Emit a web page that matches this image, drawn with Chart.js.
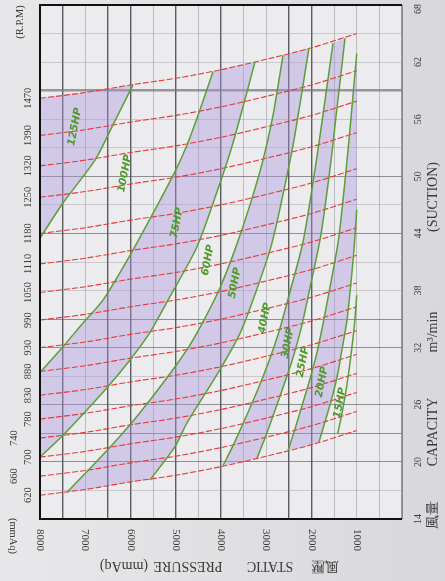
<!DOCTYPE html>
<html>
<head>
<meta charset="utf-8">
<script src="https://cdn.jsdelivr.net/npm/chart.js@4.4.1/dist/chart.umd.min.js"></script>
<style>
html, body { margin: 0; padding: 0; }
body { width: 445px; height: 581px; background: linear-gradient(to right, #e8e8ea, #d8d8dc); overflow: hidden; }
#wrap { position: relative; width: 445px; height: 581px; }
</style>
</head>
<body>
<div id="wrap"><canvas id="fan-chart"></canvas></div>
<script>
// static pressure (mmAq) / capacity (m3/min) axes
const pressureTicks = [8000, 7000, 6000, 5000, 4000, 3000, 2000, 1000];
const capacityTicks = [14, 20, 26, 32, 38, 44, 50, 56, 62, 68];

// constant speed curves, one row per R.P.M, sampled at rpmPressure
const rpmLabels = [1470, 1390, 1320, 1250, 1180, 1110, 1050, 990, 930, 880, 830, 780, 740, 700, 660, 620];
const rpmPressure = [8000, 7000, 6000, 5000, 4000, 3000, 2000, 1000];
const rpmCapacity = [
    [58.2, 58.8, 59.6, 60.3, 61.2, 62.3, 63.5, 65.0],
    [54.3, 54.9, 55.7, 56.4, 57.3, 58.4, 59.6, 61.1],
    [51.1, 51.7, 52.5, 53.2, 54.1, 55.2, 56.4, 57.9],
    [47.8, 48.4, 49.2, 49.9, 50.8, 51.9, 53.1, 54.6],
    [44.0, 44.6, 45.4, 46.1, 47.0, 48.1, 49.3, 50.8],
    [40.8, 41.4, 42.2, 42.9, 43.8, 44.9, 46.1, 47.6],
    [37.8, 38.4, 39.2, 39.9, 40.8, 41.9, 43.1, 44.6],
    [34.9, 35.5, 36.3, 37.0, 37.9, 39.0, 40.2, 41.7],
    [32.0, 32.6, 33.4, 34.1, 35.0, 36.1, 37.3, 38.8],
    [29.5, 30.1, 30.9, 31.6, 32.5, 33.6, 34.8, 36.3],
    [27.0, 27.6, 28.4, 29.1, 30.0, 31.1, 32.3, 33.8],
    [24.5, 25.1, 25.9, 26.6, 27.5, 28.6, 29.8, 31.3],
    [22.5, 23.1, 23.9, 24.6, 25.5, 26.6, 27.8, 29.3],
    [20.5, 21.1, 21.9, 22.6, 23.5, 24.6, 25.8, 27.3],
    [18.5, 19.1, 19.9, 20.6, 21.5, 22.6, 23.8, 25.3],
    [16.5, 17.1, 17.9, 18.6, 19.5, 20.6, 21.8, 23.3]
];

// motor power curves, [pressure, capacity] from low end to high end
const hpLabels = ["125HP", "100HP", "75HP", "60HP", "50HP", "40HP", "30HP", "25HP", "20HP", "15HP"];
const hp125 = [[8000, 43.5], [7492, 47.2], [6785, 51.7], [6387, 55.4], [5945, 59.6]];
const hp100 = [[8000, 29.4], [7492, 32.1], [7050, 34.6], [6608, 37.0], [6011, 41.7], [5459, 46.5], [5017, 50.5], [4751, 53.3], [4464, 57.0], [4177, 61.0]];
const hp75 = [[8000, 20.5], [7492, 22.8], [6519, 27.8], [6011, 30.7], [5569, 33.6], [5171, 37.0], [4530, 42.6], [4022, 49.3], [3735, 53.5], [3249, 62.0]];
const hp60 = [[7403, 16.8], [6519, 21.2], [6011, 23.9], [5569, 26.5], [5061, 29.7], [4685, 32.3], [4354, 35.1], [4022, 38.3], [3691, 42.3], [3359, 47.0], [3072, 51.7], [2851, 56.4], [2630, 62.7]];
const hp50 = [[5569, 18.1], [5017, 21.6], [4751, 24.1], [4022, 29.7], [3580, 33.5], [3293, 37.0], [2884, 42.8], [2550, 49.9], [2365, 54.4], [2055, 63.5]];
const hp40 = [[3956, 19.6], [3695, 22.1], [3204, 27.4], [2939, 30.6], [2718, 33.7], [2508, 37.3], [2188, 43.1], [1923, 50.7], [1772, 55.6], [1525, 64.0]];
const hp30 = [[3204, 20.4], [2996, 22.9], [2607, 28.1], [2386, 31.3], [2210, 34.4], [2046, 38.0], [1790, 43.9], [1575, 51.4], [1458, 56.3], [1260, 64.5]];
const hp25 = [[2519, 21.2], [2356, 23.6], [2046, 28.5], [1878, 31.5], [1746, 34.5], [1613, 37.8], [1405, 43.3], [1241, 50.4], [1149, 55.0], [1000, 62.9]];
const hp20 = [[1834, 22.1], [1746, 23.5], [1573, 26.3], [1480, 28.0], [1405, 29.6], [1334, 31.6], [1221, 34.7], [1130, 38.7], [1060, 42.4], [1000, 46.5]];
const hp15 = [[1420, 23.0], [1330, 25.0], [1220, 28.0], [1120, 31.5], [1050, 34.5], [1000, 37.5]];
const hpCurves = [hp125, hp100, hp75, hp60, hp50, hp40, hp30, hp25, hp20, hp15];
const hpLabelAt = [[7227, 55.2], [6122, 50.3], [4972, 45.1], [4287, 41.2], [3691, 38.8], [3028, 35.1], [2519, 32.5], [2188, 30.5], [1768, 28.4], [1370, 26.2]];

// shaded operating bands: [left curve, right curve], -1 = left edge of chart
const shadedBands = [[-1, 0], [1, 2], [3, 4], [5, 6], [7, 8]];

const darkPressureGrid = [7500, 6500, 6000, 5000, 4000, 2500, 2000];
const darkCapacityGrid = [20, 23, 26, 32, 35, 44, 50];

function bandShape(left, right) {
    const top = rpmCapacity[0];
    const bottom = rpmCapacity[rpmCapacity.length - 1];
    const a = left || [[8000, top[0]]];
    const aTop = a[a.length - 1], bTop = right[right.length - 1];
    const aBot = a[0], bBot = right[0];
    const pts = a.map(p => ({x: p[0], y: p[1]}));
    rpmPressure.forEach((p, i) => {
        if (p < aTop[0] && p >= bTop[0]) pts.push({x: p, y: top[i]});
    });
    right.slice().reverse().forEach(p => pts.push({x: p[0], y: p[1]}));
    for (let i = rpmPressure.length - 1; i >= 0; i--) {
        const p = rpmPressure[i];
        if (p > bBot[0] && p <= aBot[0]) pts.push({x: p, y: bottom[i]});
    }
    return pts;
}

const datasets = [];
shadedBands.forEach(band => {
    datasets.push({
        data: bandShape(band[0] < 0 ? null : hpCurves[band[0]], hpCurves[band[1]]),
        fill: 'shape',
        backgroundColor: 'rgba(170, 150, 220, 0.40)',
        borderWidth: 0,
        pointRadius: 0,
        order: 3
    });
});
rpmLabels.forEach((rpm, i) => {
    datasets.push({
        label: rpm + ' rpm',
        data: rpmPressure.map((p, j) => ({x: p, y: rpmCapacity[i][j]})),
        borderColor: '#e63a36',
        borderWidth: 1.1,
        borderDash: [6, 2],
        pointRadius: 0,
        tension: 0.3,
        fill: false,
        order: 2
    });
});
hpCurves.forEach((curve, i) => {
    datasets.push({
        label: hpLabels[i],
        data: curve.map(p => ({x: p[0], y: p[1]})),
        borderColor: '#5c9e38',
        borderWidth: 1.5,
        pointRadius: 0,
        tension: 0.25,
        fill: false,
        order: 1
    });
});

function rotText(ctx, txt, x, y, angle, font, color) {
    ctx.save();
    ctx.translate(x, y);
    ctx.rotate(angle);
    ctx.font = font;
    ctx.fillStyle = color;
    ctx.textAlign = 'center';
    ctx.textBaseline = 'middle';
    ctx.fillText(txt, 0, 0);
    ctx.restore();
}

const chartDecor = {
    id: 'chartDecor',
    beforeDraw(chart) {
        const {ctx, chartArea: a} = chart;
        ctx.save();
        ctx.fillStyle = '#ececee';
        ctx.fillRect(a.left, a.top, a.right - a.left, a.bottom - a.top);
        ctx.restore();
    },
    afterDraw(chart) {
        const {ctx, chartArea: a} = chart;
        const xs = chart.scales.x, ys = chart.scales.y;
        ctx.save();
        // frame
        ctx.strokeStyle = '#7d7d80';
        ctx.lineWidth = 1.5;
        ctx.beginPath();
        ctx.moveTo(a.right, a.top);
        ctx.lineTo(a.right, a.bottom);
        ctx.stroke();
        ctx.strokeStyle = '#111';
        ctx.lineWidth = 2;
        ctx.beginPath();
        ctx.moveTo(a.right, a.top);
        ctx.lineTo(a.left, a.top);
        ctx.lineTo(a.left, a.bottom);
        ctx.lineTo(a.right, a.bottom);
        ctx.stroke();
        ctx.restore();

        const serif = '"Liberation Serif", "DejaVu Serif", serif';
        pressureTicks.forEach(v => {
            rotText(ctx, String(v), xs.getPixelForValue(v), 540, Math.PI / 2, '11px ' + serif, '#3a3a3a');
        });
        capacityTicks.forEach(v => {
            const y = ys.getPixelForValue(v) + (v === 68 ? 4 : 0);
            rotText(ctx, String(v), 418, y, -Math.PI / 2, '10px ' + serif, '#3a3a3a');
        });
        rpmLabels.forEach((rpm, i) => {
            const outer = rpm === 740 || rpm === 660;
            rotText(ctx, String(rpm), outer ? 14 : 28, ys.getPixelForValue(rpmCapacity[i][0]), -Math.PI / 2, '10.5px ' + serif, '#3a3a3a');
        });
        rotText(ctx, '(R.P.M)', 20, 22, -Math.PI / 2, '10.5px ' + serif, '#3a3a3a');
        rotText(ctx, '(mmAq)', 13, 536, Math.PI / 2, '10.5px ' + serif, '#3a3a3a');

        // axis titles
        const titleFont = '14px ' + serif;
        rotText(ctx, '(mmAq)', 124, 566, Math.PI, titleFont, '#3a3a3a');
        rotText(ctx, 'PRESSURE', 188, 566, Math.PI, titleFont, '#3a3a3a');
        rotText(ctx, 'STATIC', 270, 566, Math.PI, titleFont, '#3a3a3a');
        rotText(ctx, '風壓', 325, 566, Math.PI, titleFont, '#3a3a3a');
        rotText(ctx, '風量', 433, 515, -Math.PI / 2, titleFont, '#3a3a3a');
        rotText(ctx, 'CAPACITY', 433, 432, -Math.PI / 2, titleFont, '#3a3a3a');
        rotText(ctx, 'm³/min', 433, 332, -Math.PI / 2, titleFont, '#3a3a3a');
        rotText(ctx, '(SUCTION)', 433, 197, -Math.PI / 2, titleFont, '#3a3a3a');

        hpLabels.forEach((name, i) => {
            const p = hpLabelAt[i];
            rotText(ctx, name, xs.getPixelForValue(p[0]), ys.getPixelForValue(p[1]), -1.38,
                'italic bold 10.5px "DejaVu Sans", sans-serif', '#4f9a2a');
        });
    }
};

new Chart(document.getElementById('fan-chart'), {
    type: 'line',
    data: {datasets: datasets},
    options: {
        responsive: true,
        maintainAspectRatio: false,
        animation: false,
        layout: {padding: {left: 40, top: 5, right: 0, bottom: 0}},
        plugins: {
            legend: {display: false},
            tooltip: {enabled: false}
        },
        scales: {
            x: {
                type: 'linear',
                reverse: true,
                min: 0,
                max: 8000,
                ticks: {stepSize: 500, display: false},
                border: {display: false},
                grid: {
                    color: ctx => darkPressureGrid.includes(ctx.tick.value) ? 'rgba(55,55,60,0.8)' : 'rgba(120,120,125,0.4)',
                    lineWidth: ctx => darkPressureGrid.includes(ctx.tick.value) ? 1.4 : 1,
                    drawTicks: false
                },
                afterFit: scale => { scale.height = 62; }
            },
            y: {
                type: 'linear',
                position: 'right',
                min: 14,
                max: 68,
                ticks: {stepSize: 3, display: false},
                border: {display: false},
                grid: {
                    color: ctx => ctx.tick.value === 59 ? 'rgba(120,120,125,0.75)' :
                        (darkCapacityGrid.includes(ctx.tick.value) ? 'rgba(80,80,85,0.6)' : 'rgba(140,140,145,0.35)'),
                    lineWidth: ctx => ctx.tick.value === 59 ? 2.5 : 1,
                    drawTicks: false
                },
                afterFit: scale => { scale.width = 43; }
            }
        }
    },
    plugins: [chartDecor]
});
</script>
</body>
</html>
